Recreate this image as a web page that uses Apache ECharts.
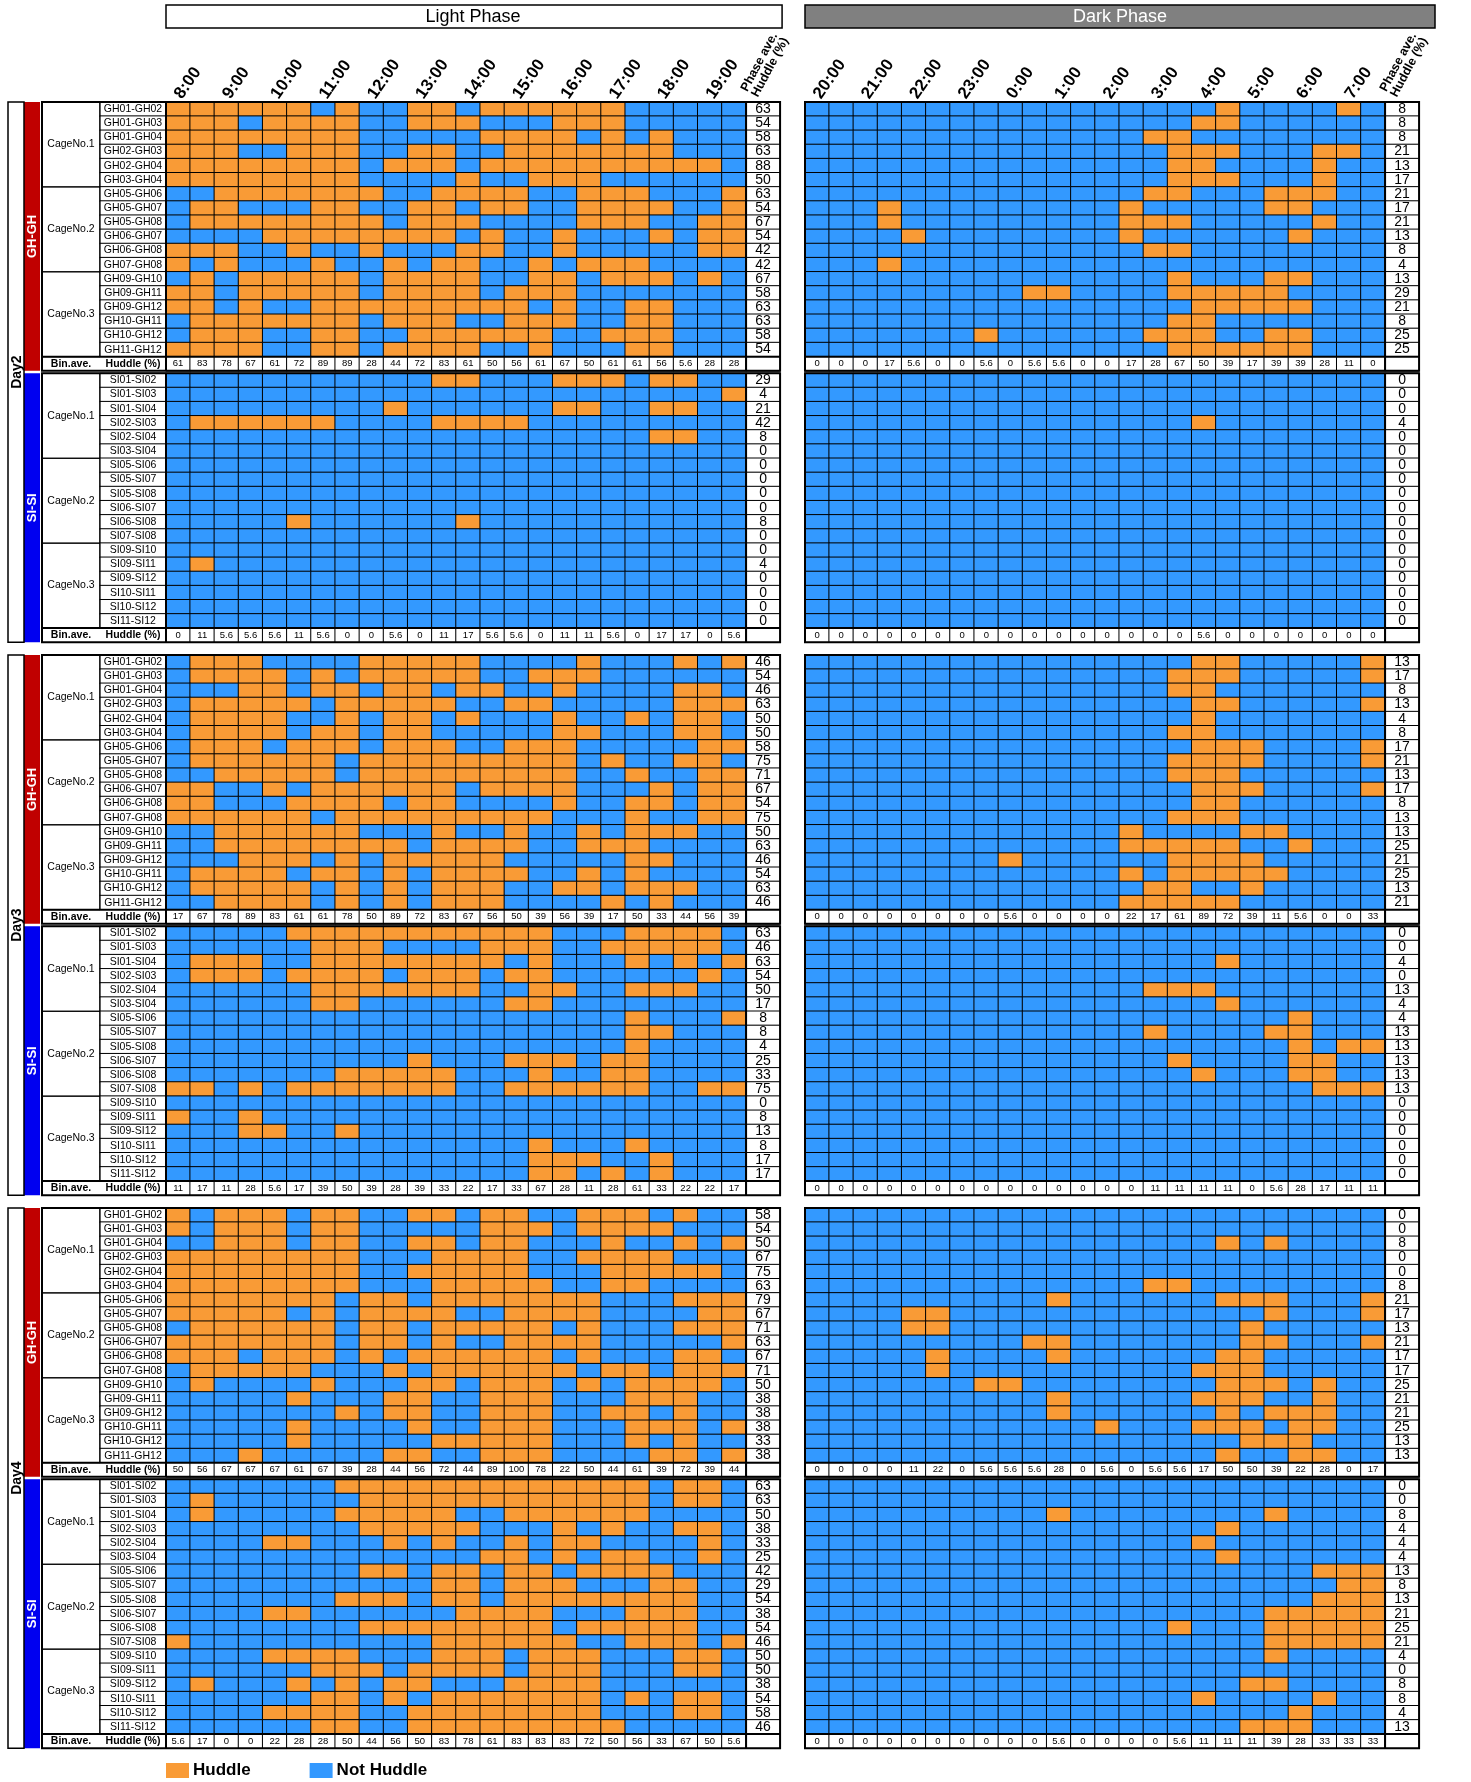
<!DOCTYPE html>
<html>
<head>
<meta charset="utf-8">
<script src="https://cdn.jsdelivr.net/npm/echarts@6/dist/echarts.min.js"></script>
<style>
  html, body { margin: 0; padding: 0; background: #fff; }
  #chart { width: 1471px; height: 1782px; }
</style>
</head>
<body>
<div id="chart"></div>
<script>
// ---- categories -------------------------------------------------------
const LIGHT_BINS = ['8:00','8:30','9:00','9:30','10:00','10:30','11:00','11:30','12:00','12:30','13:00','13:30',
                    '14:00','14:30','15:00','15:30','16:00','16:30','17:00','17:30','18:00','18:30','19:00','19:30'];
const DARK_BINS  = ['20:00','20:30','21:00','21:30','22:00','22:30','23:00','23:30','0:00','0:30','1:00','1:30',
                    '2:00','2:30','3:00','3:30','4:00','4:30','5:00','5:30','6:00','6:30','7:00','7:30'];
const GH_PAIRS = ['GH01-GH02','GH01-GH03','GH01-GH04','GH02-GH03','GH02-GH04','GH03-GH04',
                  'GH05-GH06','GH05-GH07','GH05-GH08','GH06-GH07','GH06-GH08','GH07-GH08',
                  'GH09-GH10','GH09-GH11','GH09-GH12','GH10-GH11','GH10-GH12','GH11-GH12'];
const SI_PAIRS = ['SI01-SI02','SI01-SI03','SI01-SI04','SI02-SI03','SI02-SI04','SI03-SI04',
                  'SI05-SI06','SI05-SI07','SI05-SI08','SI06-SI07','SI06-SI08','SI07-SI08',
                  'SI09-SI10','SI09-SI11','SI09-SI12','SI10-SI11','SI10-SI12','SI11-SI12'];
const CAGES = ['CageNo.1', 'CageNo.2', 'CageNo.3'];
const DAYS = ['Day2', 'Day3', 'Day4'];

// ---- huddle records: one string per pair, one character per 30-min bin (1 = huddle) ----
const day2GhLight = [
  '111111010011011111100000','111011110011100011100000','111111110000011110101000',
  '111001110011001111111000','111111110111011111111110','111111110000100111000000',
  '001111111001111001110001','011000110011011001111001','011111111011100001110011',
  '000011111111010010001011','111001001000110010000011','101000100101100101110000',
  '010111110111100110111010','110111110111101110000000','110100111111111010011000',
  '011111110111001110011000','011100110011111100111000','111100110111100100011000'];
const day2GhDark = [
  '000000000000000001000010','000000000000000011000000','000000000000001100000000',
  '000000000000000111000110','000000000000000110000100','000000000000000111000100',
  '000000000000001100011100','000100000000010000011000','000100000000011100000100',
  '000010000000010000001000','000000000000001100000000','000100000000000000000000',
  '000000000000000100011000','000000000110000111110000','000000000000000011111000',
  '000000000000000110000000','000000010000001110011000','000000000000000111111000'];
const day2SiLight = [
  '000000000001100011101100','000000000000000000000001','000000000100000011001100',
  '011111100001111000000000','000000000000000000001100','000000000000000000000000',
  '000000000000000000000000','000000000000000000000000','000000000000000000000000',
  '000000000000000000000000','000001000000100000000000','000000000000000000000000',
  '000000000000000000000000','010000000000000000000000','000000000000000000000000',
  '000000000000000000000000','000000000000000000000000','000000000000000000000000'];
const day2SiDark = [
  '000000000000000000000000','000000000000000000000000','000000000000000000000000',
  '000000000000000010000000','000000000000000000000000','000000000000000000000000',
  '000000000000000000000000','000000000000000000000000','000000000000000000000000',
  '000000000000000000000000','000000000000000000000000','000000000000000000000000',
  '000000000000000000000000','000000000000000000000000','000000000000000000000000',
  '000000000000000000000000','000000000000000000000000','000000000000000000000000'];
const day3GhLight = [
  '011100001111100001000101','011110101111100111000000','000110110110110010000110',
  '011111011111001100000111','011110010110100010010110','011110110110000011000110',
  '011101110111001110000011','011111101111111110100110','001111101111111110010011',
  '110010111111011110001011','110001111011000010011011','111111011111111100010011',
  '001111110001001001011100','001111111101111001110000','000111010111110000011000',
  '011110110101111001010000','011111010101110011011100','001111010101110000101000'];
const day3GhDark = [
  '000000000000000011000001','000000000000000111000001','000000000000000110000000',
  '000000000000000011000001','000000000000000010000000','000000000000000110000000',
  '000000000000000011100001','000000000000000111100001','000000000000000111000000',
  '000000000000000011100001','000000000000000011000000','000000000000000111000000',
  '000000000000010000110000','000000000000011111001000','000000001000000111100000',
  '000000000000010111110000','000000000000001100100000','000000000000011111000000'];
const day3SiLight = [
  '000001111111111100011110','000000111000011100111110','011100111111110100010101',
  '011101111011101100000010','000000111111100110011100','000000110000001100000000',
  '000000000000000000010001','000000000000000000011000','000000000000000000010000',
  '000000000010001110110000','000000011111000100110000','110101111111001111110011',
  '000000000000000000000000','100100000000000000000000','000110010000000000000000',
  '000000000000000100010000','000000000000000111001000','000000000000000110101000'];
const day3SiDark = [
  '000000000000000000000000','000000000000000000000000','000000000000000001000000',
  '000000000000000000000000','000000000000001110000000','000000000000000001000000',
  '000000000000000000001000','000000000000001000011000','000000000000000000001011',
  '000000000000000100001100','000000000000000010001100','000000000000000000000111',
  '000000000000000000000000','000000000000000000000000','000000000000000000000000',
  '000000000000000000000000','000000000000000000000000','000000000000000000000000'];
const day4GhLight = [
  '101110110011011001110100','101110110000011101111000','001110110011011000100101',
  '111111110001111001111000','111111110011111000111110','111111110001111100110000',
  '111111101101111111000111','111110101111001111000011','011111101101111101000111',
  '111111101101001111000001','111011101011111101000110','011111000101111110110111',
  '010000100011011101011110','000001000110011100011100','000000010110011100110100',
  '000001000010011100011101','000001000001111100010100','000100000110011100001101'];
const day4GhDark = [
  '000000000000000000000000','000000000000000000000000','000000000000000001010000',
  '000000000000000000000000','000000000000000000000000','000000000000001100000000',
  '000000000010000001110001','000011000000000000010001','000011000000000000100000',
  '000000000110000000110001','000001000010000001100000','000001000000000011100000',
  '000000011000000001110100','000000000010000011100100','000000000010000001011100',
  '000000000000100011101100','000000000000000000111000','000000000000000001001100'];
const day4SiLight = [
  '000000011111111111110110','010000001111111111110110','010000011111001111110000',
  '000000001111100010100110','000011000101001011000010','000000000000011010110010',
  '000000001101101101111000','000000000001101110001100','000000011101101111111100',
  '000011000000111100011100','000000001111111101111100','100000000001111110011101',
  '000011110001110111000110','000000111011110111000110','010001010110001111000000',
  '000000110101111111010110','000011110011111111000110','000000110011111111100000'];
const day4SiDark = [
  '000000000000000000000000','000000000000000000000000','000000000010000000010000',
  '000000000000000001000000','000000000000000010000000','000000000000000001000000',
  '000000000000000000000111','000000000000000000000011','000000000000000000000111',
  '000000000000000000011111','000000000000000100011111','000000000000000000011111',
  '000000000000000000010000','000000000000000000000000','000000000000000000110000',
  '000000000000000010000100','000000000000000000001000','000000000000000000111000'];

const BLOCKS = [
  { day: 0, group: 'GH-GH', pairs: GH_PAIRS, light: day2GhLight, dark: day2GhDark },
  { day: 0, group: 'SI-SI', pairs: SI_PAIRS, light: day2SiLight, dark: day2SiDark },
  { day: 1, group: 'GH-GH', pairs: GH_PAIRS, light: day3GhLight, dark: day3GhDark },
  { day: 1, group: 'SI-SI', pairs: SI_PAIRS, light: day3SiLight, dark: day3SiDark },
  { day: 2, group: 'GH-GH', pairs: GH_PAIRS, light: day4GhLight, dark: day4GhDark },
  { day: 2, group: 'SI-SI', pairs: SI_PAIRS, light: day4SiLight, dark: day4SiDark }
];

// ---- look & layout -----------------------------------------------------
const ORANGE = '#F99B36', BLUE = '#3399FF';
const GROUP_COLOR = { 'GH-GH': '#C00000', 'SI-SI': '#0000F0' };
const FONT = '"Liberation Sans Narrow", "Liberation Sans", Arial, sans-serif';
const BOLD_FONT = '"Liberation Sans", Arial, sans-serif';
const COL_W = 24.17, ROW_H = 14.15, PHASE_W = 34;
const NROW = 19, BLOCK_H = NROW * ROW_H, BLOCK_GAP = 2.5;
const LIGHT_X = 166, DARK_X = 805;
const DAY_TOPS = [102, 655, 1208];
const DAYBOX_X = 8, BAR_X = 24, BAR_W = 16, CAGE_X = 42, LABEL_X = 100;
const MAIN_W = 24 * COL_W;

function fmtBin(v) { return v === 0 ? '0' : (v < 10 ? v.toFixed(1) : String(Math.round(v))); }
function fmtPhase(v) { return String(Math.round(v)); }

const option = {
  animation: false,
  backgroundColor: '#fff',
  grid: [], xAxis: [], yAxis: [], series: [], graphic: [],
  visualMap: [{
    type: 'piecewise', dimension: 2, selectedMode: false, inverse: true,
    pieces: [ { value: 1, label: 'Huddle', color: ORANGE }, { value: 0, label: 'Not Huddle', color: BLUE } ],
    outOfRange: { color: '#ffffff' },
    orient: 'horizontal', left: 151, top: 1747,
    itemWidth: 23, itemHeight: 15, itemGap: 59, textGap: 4, itemSymbol: 'rect',
    textStyle: { fontFamily: BOLD_FONT, fontWeight: 'bold', fontSize: 17, color: '#000' }
  }]
};

function addPanel(left, top, width, cats, rowCats, showTop) {
  option.grid.push({ left, top, width, height: BLOCK_H, containLabel: false });
  const gi = option.grid.length - 1;
  option.xAxis.push({
    gridIndex: gi, type: 'category', data: cats, position: 'top', show: !!showTop,
    axisLine: { show: false }, axisTick: { show: false }, splitLine: { show: false },
    axisLabel: { interval: 1, rotate: -55, margin: 5, fontFamily: BOLD_FONT, fontWeight: 'bold', fontSize: 17, color: '#000' }
  });
  option.yAxis.push({ gridIndex: gi, type: 'category', data: rowCats, inverse: true, show: false });
  return gi;
}

function heat(gi, data) {
  option.series.push({
    type: 'heatmap', xAxisIndex: gi, yAxisIndex: gi, data, silent: true,
    itemStyle: { borderColor: '#000', borderWidth: 1 },
    label: { show: false, color: '#000', fontFamily: FONT, fontSize: 9.5 },
    emphasis: { disabled: true }
  });
}

const G = option.graphic;
function rect(x, y, w, h, style) { G.push({ type: 'rect', z: 100, silent: true, shape: { x, y, width: w, height: h }, style: Object.assign({ fill: 'none', stroke: '#000', lineWidth: 1 }, style) }); }
function line(x1, y1, x2, y2, lw) { G.push({ type: 'line', z: 101, silent: true, shape: { x1, y1, x2, y2 }, style: { stroke: '#000', lineWidth: lw } }); }
function text(x, y, str, style, rot) {
  G.push({ type: 'text', z: 102, silent: true, x, y, rotation: rot || 0,
    style: Object.assign({ text: str, align: 'center', verticalAlign: 'middle', fill: '#000', fontFamily: FONT, fontSize: 10 }, style) });
}

BLOCKS.forEach((blk, bi) => {
  const g = bi % 2;
  const top = DAY_TOPS[blk.day] + g * (BLOCK_H + BLOCK_GAP);
  const rowCats = blk.pairs.concat(['Bin.ave.']);

  // pair names column
  const li = addPanel(LABEL_X, top, LIGHT_X - LABEL_X, ['pair'], rowCats, false);
  const names = blk.pairs.map((p, r) => ({ value: [0, r, -1], label: { show: true, formatter: p, fontSize: 10.5 } }));
  names.push({ value: [0, 18, -1], itemStyle: { borderWidth: 0 },
    label: { show: true, formatter: 'Huddle (%)', fontFamily: BOLD_FONT, fontWeight: 'bold', fontSize: 10.5 } });
  heat(li, names);

  [['light', LIGHT_X, LIGHT_BINS], ['dark', DARK_X, DARK_BINS]].forEach(([ph, x0, bins]) => {
    const rows = blk[ph];
    const gi = addPanel(x0, top, MAIN_W, bins, rowCats, bi === 0);
    const cells = [];
    rows.forEach((s, r) => { for (let c = 0; c < 24; c++) cells.push([c, r, s[c] === '1' ? 1 : 0]); });
    for (let c = 0; c < 24; c++) {
      let n = 0; rows.forEach(s => { if (s[c] === '1') n++; });
      cells.push({ value: [c, 18, -1], label: { show: true, formatter: fmtBin(n / 18 * 100) } });
    }
    heat(gi, cells);

    // phase average column
    const pi = addPanel(x0 + MAIN_W, top, PHASE_W, ['ave'], rowCats, false);
    const pv = rows.map((s, r) => {
      const n = s.split('').filter(ch => ch === '1').length;
      return { value: [0, r, -1], label: { show: true, formatter: fmtPhase(n / 24 * 100), fontSize: 14 } };
    });
    pv.push({ value: [0, 18, -1] });
    heat(pi, pv);

    // heavy outlines
    const x1 = ph === 'light' ? CAGE_X : x0;
    const xe = x0 + MAIN_W + PHASE_W;
    rect(x1, top, xe - x1, BLOCK_H, { lineWidth: 2 });
    line(x0, top, x0, top + BLOCK_H, 2);
    line(x0 + MAIN_W, top, x0 + MAIN_W, top + BLOCK_H, 2);
    line(x1, top + 18 * ROW_H, xe, top + 18 * ROW_H, 2);
  });

  // group bar
  rect(BAR_X, top, BAR_W, BLOCK_H, { fill: GROUP_COLOR[blk.group], stroke: 'none' });
  text(BAR_X + BAR_W / 2, top + BLOCK_H / 2, blk.group,
    { fill: '#fff', fontFamily: BOLD_FONT, fontWeight: 'bold', fontSize: 13 }, Math.PI / 2);

  // cage cells
  CAGES.forEach((cg, k) => {
    rect(CAGE_X, top + 6 * k * ROW_H, LABEL_X - CAGE_X, 6 * ROW_H, { lineWidth: 1 });
    text((CAGE_X + LABEL_X) / 2, top + (6 * k + 3) * ROW_H, cg, { fontSize: 10.5 });
  });
  text((CAGE_X + LABEL_X) / 2, top + 18.5 * ROW_H, 'Bin.ave.',
    { fontFamily: BOLD_FONT, fontWeight: 'bold', fontSize: 10.5 });
});

// day frames
DAYS.forEach((d, i) => {
  const top = DAY_TOPS[i], h = 2 * BLOCK_H + BLOCK_GAP;
  rect(DAYBOX_X, top, BAR_X - DAYBOX_X, h, { lineWidth: 1.5 });
  text(DAYBOX_X + (BAR_X - DAYBOX_X) / 2 + 1, top + BLOCK_H + BLOCK_GAP / 2, d,
    { fontFamily: BOLD_FONT, fontWeight: 'bold', fontSize: 14 }, Math.PI / 2);
});

// phase headers
rect(LIGHT_X, 5, MAIN_W + PHASE_W + 2, 23, { fill: '#fff', lineWidth: 1.5 });
text(LIGHT_X + (MAIN_W + PHASE_W) / 2, 17, 'Light Phase', { fontFamily: BOLD_FONT, fontSize: 18 });
rect(DARK_X, 5, 630, 23, { fill: '#808080', lineWidth: 1.5 });
text(DARK_X + 315, 17, 'Dark Phase', { fontFamily: BOLD_FONT, fontSize: 18, fill: '#fff' });
[LIGHT_X, DARK_X].forEach(x0 => {
  text(x0 + MAIN_W + 14, DAY_TOPS[0] - 3, 'Phase ave.\nHuddle (%)',
    { align: 'left', verticalAlign: 'bottom', fontFamily: BOLD_FONT, fontWeight: 'bold', fontSize: 12.5, lineHeight: 12 },
    62 * Math.PI / 180);
});

const chart = echarts.init(document.getElementById('chart'), null, { renderer: 'canvas' });
chart.setOption(option);
</script>
</body>
</html>
